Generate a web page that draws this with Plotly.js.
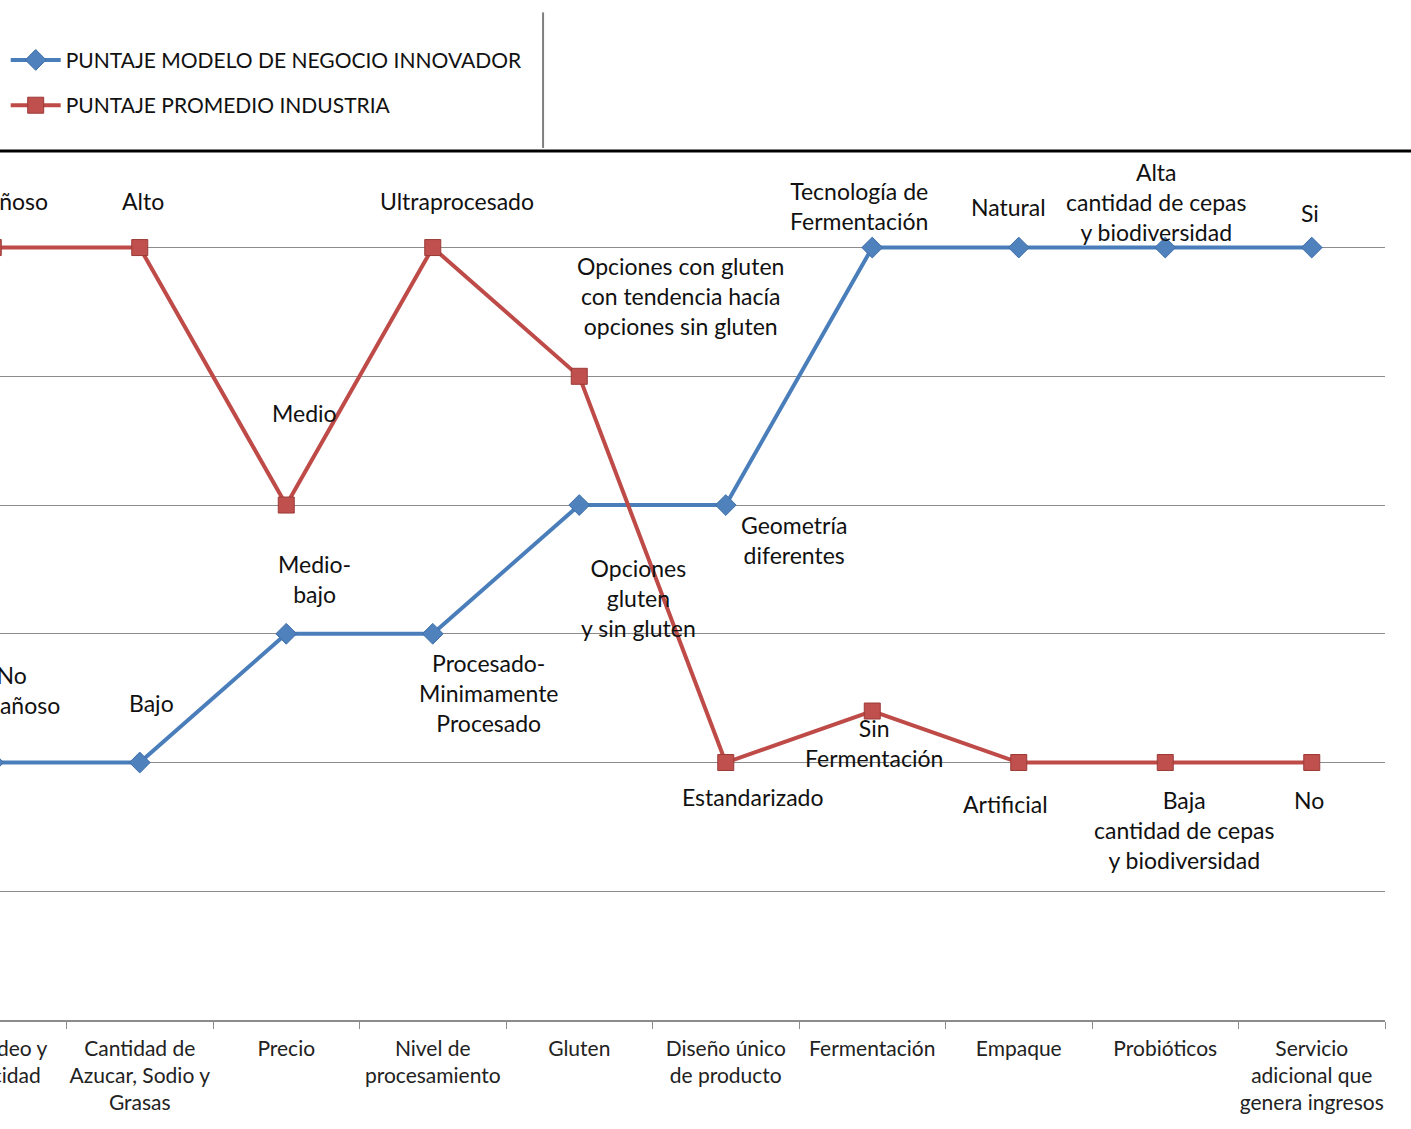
<!DOCTYPE html>
<html>
<head>
<meta charset="utf-8">
<script src="https://cdn.plot.ly/plotly-3.0.1.min.js"></script>
<style>
html,body{margin:0;padding:0;background:#fff;overflow:hidden;width:1411px;height:1129px;}
#chart{position:absolute;left:-80px;top:0;width:1491px;height:1129px;}
</style>
</head>
<body>
<div id="chart"></div>
<script>
// Categories (first one partly cropped in the reference)
const categories = [
  "Mercadeo y<br>Publicidad",
  "Cantidad de<br>Azucar, Sodio y<br>Grasas",
  "Precio",
  "Nivel de<br>procesamiento",
  "Gluten",
  "Diseño único<br>de producto",
  "Fermentación",
  "Empaque",
  "Probióticos",
  "Servicio<br>adicional que<br>genera ingresos"
];
const seriesNames = ["PUNTAJE MODELO DE NEGOCIO INNOVADOR", "PUNTAJE PROMEDIO INDUSTRIA"];
const innovador = [2, 2, 3, 3, 4, 4, 6, 6, 6, 6];
const industria = [6, 6, 4, 6, 5, 2, 2.4, 2, 2, 2];
const innovadorLabels = [
  "No<br>engañoso", "Bajo", "Medio-<br>bajo", "Procesado-<br>Minimamente<br>Procesado",
  "Opciones<br>gluten<br>y sin gluten", "Geometría<br>diferentes", "Tecnología de<br>Fermentación",
  "Natural", "Alta<br>cantidad de cepas<br>y biodiversidad", "Si"
];
const industriaLabels = [
  "Engañoso", "Alto", "Medio", "Ultraprocesado",
  "Opciones con gluten<br>con tendencia hacía<br>opciones sin gluten", "Estandarizado",
  "Sin<br>Fermentación", "Artificial", "Baja<br>cantidad de cepas<br>y biodiversidad", "No"
];
// label offsets in pixels (style only)
const innovadorShift = [[18,73],[12,60],[28,55],[56,-59],[59,-93],[68,-35],[-13,42],[-10,41],[-9,46],[-2,35]];
const industriaShift = [[6,47],[3,47],[18,92],[24,47],[101,80],[27,-34],[2,-32],[-13,-41],[19,-67],[-3,-37]];

const FONT = "Lato, 'Open Sans', sans-serif";
const blue = "#4A7EBB", red = "#BE4B48";

const traces = [
  {
    x: categories, y: innovador, type: "scatter", mode: "lines+markers",
    name: seriesNames[0], legendgroup: "a",
    line: {color: blue, width: 4},
    marker: {symbol: "diamond", size: 16, color: "#4F81BD", line: {color: "#3f6fa8", width: 1}},
    cliponaxis: false
  },
  {
    x: categories, y: industria, type: "scatter", mode: "lines+markers",
    name: seriesNames[1], legendgroup: "b",
    line: {color: red, width: 4},
    marker: {symbol: "square", size: 16, color: "#C0504D", line: {color: "#9b3a37", width: 1}},
    cliponaxis: false
  }
];

const annotations = [];
categories.forEach((c, i) => {
  annotations.push({x: c, y: innovador[i], xref: "x", yref: "y", text: innovadorLabels[i],
    showarrow: false, xshift: innovadorShift[i][0], yshift: innovadorShift[i][1],
    font: {family: FONT, size: 23, color: "#111"}, align: "center"});
  annotations.push({x: c, y: industria[i], xref: "x", yref: "y", text: industriaLabels[i],
    showarrow: false, xshift: industriaShift[i][0], yshift: industriaShift[i][1],
    font: {family: FONT, size: 23, color: "#111"}, align: "center"});
});

const layout = {
  width: 1491, height: 1129,
  margin: {l: 0, r: 26, t: 151, b: 109, autoexpand: false},
  paper_bgcolor: "#fff", plot_bgcolor: "#fff",
  font: {family: FONT, size: 21, color: "#222"},
  xaxis: {
    type: "category", range: [-0.5, 9.5],
    showgrid: false, zeroline: false,
    showline: true, linecolor: "#8c8c8c", linewidth: 1.5,
    ticks: "outside", tickson: "boundaries", ticklen: 7, tickcolor: "#8c8c8c",
    ticklabelstandoff: 9, tickangle: 0,
    tickfont: {family: FONT, size: 21, color: "#222"},
    fixedrange: true
  },
  yaxis: {
    range: [0, 6.75], dtick: 1, tick0: 0,
    showgrid: true, gridcolor: "#8c8c8c", gridwidth: 1,
    zeroline: false, showline: false, showticklabels: false, ticks: "",
    fixedrange: true
  },
  showlegend: true,
  legend: {
    x: 0.0585, y: 1.128, xanchor: "left", yanchor: "top",
    traceorder: "grouped", tracegroupgap: 15,
    font: {family: FONT, size: 21, color: "#111"},
    bgcolor: "rgba(0,0,0,0)", borderwidth: 0, itemwidth: 50
  },
  annotations: annotations,
  shapes: [
    {type: "line", xref: "paper", yref: "paper", x0: -0.01, x1: 1.03, y0: 1, y1: 1,
     line: {color: "#000", width: 3}},
    {type: "line", xref: "paper", yref: "paper", x0: 0.4253, x1: 0.4253, y0: 1.1595, y1: 1.0035,
     line: {color: "#7f7f7f", width: 2}}
  ]
};

Plotly.newPlot("chart", traces, layout, {displayModeBar: false, staticPlot: true});
</script>
</body>
</html>
